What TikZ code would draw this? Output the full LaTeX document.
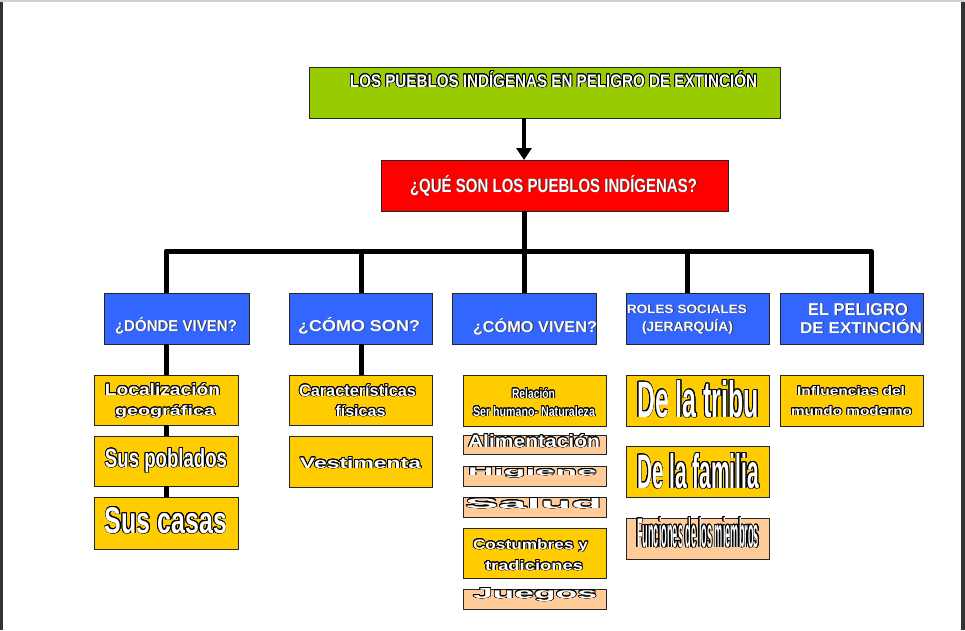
\documentclass[tikz,border=0pt]{standalone}
\usepackage{fontspec}
\setmainfont{Liberation Sans}
\usepackage{graphicx}
\usepackage[copies]{contour}
\contourlength{0.8pt}
\contournumber{16}
\usetikzlibrary{arrows.meta}
\definecolor{cgreen}{RGB}{153,204,0}
\definecolor{cred}{RGB}{255,0,0}
\definecolor{cblue}{RGB}{51,102,255}
\definecolor{cyel}{RGB}{255,204,0}
\definecolor{cpeach}{RGB}{255,204,153}
\newcommand{\olt}[3]{\contour{black}{\resizebox{#1pt}{#2pt}{#3}}}
\newcommand{\sht}[3]{\rlap{\kern0.9pt\raisebox{-0.9pt}{\textcolor{black!80}{\resizebox{#1pt}{#2pt}{#3}}}}\resizebox{#1pt}{#2pt}{#3}}
\tikzset{
  box/.style={draw=black!85, line width=0.8pt, inner sep=0pt, outer sep=0pt},
  lbl/.style={inner sep=0pt, outer sep=0pt, anchor=base, text=white, font=\bfseries},
  conn/.style={line width=5pt, black, line join=round},
}
\begin{document}
\begin{tikzpicture}[x=1pt,y=-1pt]
\useasboundingbox (0,0) rectangle (965,630);
\fill[white] (0,0) rectangle (965,630);
\fill[black!80] (0,0) rectangle (3,630);
\fill[black!80] (961,0) rectangle (965,630);
\fill[black!18] (0,0) rectangle (965,1.5);

% boxes
\node[box, fill=cgreen, minimum width=471pt, minimum height=51pt] (title) at (544.5,92.5) {};
\node[box, fill=cred, minimum width=347pt, minimum height=51pt] (red) at (554.5,185.5) {};

\node[box, fill=cblue, minimum width=145pt, minimum height=51pt] (donde) at (176.5,318.5) {};
\node[box, fill=cblue, minimum width=143pt, minimum height=51pt] (comoson) at (360.5,318.5) {};
\node[box, fill=cblue, minimum width=144pt, minimum height=51pt] (comoviven) at (524,318.5) {};
\node[box, fill=cblue, minimum width=143pt, minimum height=51pt] (roles) at (697.5,318.5) {};
\node[box, fill=cblue, minimum width=143pt, minimum height=51pt] (peligro) at (851.5,318.5) {};

\node[box, fill=cyel, minimum width=144pt, minimum height=50pt] (loc) at (166,400) {};
\node[box, fill=cyel, minimum width=144pt, minimum height=50pt] (pob) at (166,461) {};
\node[box, fill=cyel, minimum width=144pt, minimum height=52pt] (casas) at (166,523) {};

\node[box, fill=cyel, minimum width=143pt, minimum height=50pt] (carac) at (360.5,400) {};
\node[box, fill=cyel, minimum width=143pt, minimum height=51pt] (vest) at (360.5,461.5) {};

\node[box, fill=cyel, minimum width=143pt, minimum height=51pt] (rel) at (534.5,400.5) {};
\node[box, fill=cpeach, minimum width=143pt, minimum height=19pt] (alim) at (534.5,444.5) {};
\node[box, fill=cpeach, minimum width=143pt, minimum height=20pt] (hig) at (534.5,476) {};
\node[box, fill=cpeach, minimum width=143pt, minimum height=20pt] (sal) at (534.5,507) {};
\node[box, fill=cyel, minimum width=143pt, minimum height=50pt] (cost) at (534.5,553) {};
\node[box, fill=cpeach, minimum width=143pt, minimum height=20pt] (jue) at (534.5,599) {};

\node[box, fill=cyel, minimum width=143pt, minimum height=51pt] (tribu) at (697.5,400.5) {};
\node[box, fill=cyel, minimum width=143pt, minimum height=51pt] (fam) at (697.5,471.5) {};
\node[box, fill=cpeach, minimum width=143pt, minimum height=41pt] (func) at (697.5,538.5) {};

\node[box, fill=cyel, minimum width=143pt, minimum height=51pt] (infl) at (851.5,400.5) {};

% connectors
\coordinate (j0) at (524,251);
\coordinate (j1) at (166,251);
\coordinate (j2) at (361,251);
\coordinate (j4) at (687,251);
\coordinate (j5) at (871,251);
\draw[line width=4pt, -{Triangle[length=12pt,width=15pt]}] (title.south -| j0) -- (red.north -| j0);
\draw[conn] (red.south -| j0) -- (j0);
\draw[conn] (donde.north -| j1) -- (j1) -- (j5) -- (peligro.north -| j5);
\draw[conn] (j2) -- (comoson.north -| j2);
\draw[conn] (j0) -- (comoviven.north -| j0);
\draw[conn] (j4) -- (roles.north -| j4);
\draw[conn] (donde.south -| j1) -- (loc.north -| j1);
\draw[conn] (loc.south -| j1) -- (pob.north -| j1);
\draw[conn] (pob.south -| j1) -- (casas.north -| j1);
\draw[conn] (comoson.south -| j2) -- (carac.north -| j2);

% texts
\node[lbl] (ttitle) at (553.5,87) {\olt{407}{16}{LOS PUEBLOS INDÍGENAS EN PELIGRO DE EXTINCIÓN}};
\node[lbl] (tred) at (553.5,192) {\sht{287}{17}{¿QUÉ SON LOS PUEBLOS INDÍGENAS?}};

\node[lbl] (tdonde) at (176,331) {\sht{122}{14}{¿DÓNDE VIVEN?}};
\node[lbl] (tcomoson) at (359,331) {\sht{122}{14}{¿CÓMO SON?}};
\node[lbl] (tcomoviven) at (535,332) {\sht{124}{14}{¿CÓMO VIVEN?}};
\node[lbl] (troles1) at (687,313) {\sht{120}{8.5}{ROLES SOCIALES}};
\node[lbl] (troles2) at (687.5,331) {\sht{91}{12}{(JERARQUÍA)}};
\node[lbl] (tpel1) at (858,315) {\sht{100}{12}{EL PELIGRO}};
\node[lbl] (tpel2) at (861,333) {\sht{122}{14}{DE EXTINCIÓN}};

\node[lbl] (tloc1) at (162.5,395) {\olt{115}{12}{Localización}};
\node[lbl] (tloc2) at (165,415) {\olt{100}{10}{geográfica}};
\node[lbl] (tpob) at (166,467) {\olt{122}{19}{Sus poblados}};
\node[lbl] (tcasas) at (166,533) {\olt{122}{26}{Sus casas}};

\node[lbl] (tcarac1) at (357.5,396) {\olt{117}{12}{Características}};
\node[lbl] (tcarac2) at (360.5,416) {\olt{50}{11}{físicas}};
\node[lbl] (tvest) at (360.5,468) {\olt{121}{11}{Vestimenta}};

\node[lbl] (trel1) at (533.5,398) {\olt{43}{10}{Relación}};
\node[lbl] (trel2) at (534,416) {\olt{122}{10}{Ser humano- Naturaleza}};
\node[lbl] (talim) at (534,447) {\olt{132}{13}{Alimentación}};
\node[lbl] (thig) at (532.5,475) {\olt{129}{8}{Higiene}};
\node[lbl] (tsal) at (533.5,508) {\olt{137}{10}{Salud}};
\node[lbl] (tcost1) at (530.5,549) {\olt{115}{10}{Costumbres y}};
\node[lbl] (tcost2) at (534,570) {\olt{98}{10}{tradiciones}};
\node[lbl] (tjue) at (535,598) {\olt{124}{10}{Juegos}};

\node[lbl] (ttribu) at (698,417) {\olt{122}{37}{De la tribu}};
\node[lbl] (tfam) at (698,488) {\olt{122}{35}{De la familia}};
\node[lbl] (tfunc) at (698,547) {\olt{122}{30}{Funciones de los miembros}};

\node[lbl] (tinfl1) at (851,395) {\olt{108}{9}{Influencias del}};
\node[lbl] (tinfl2) at (851.5,415) {\olt{121}{9}{mundo moderno}};
\end{tikzpicture}
\end{document}
